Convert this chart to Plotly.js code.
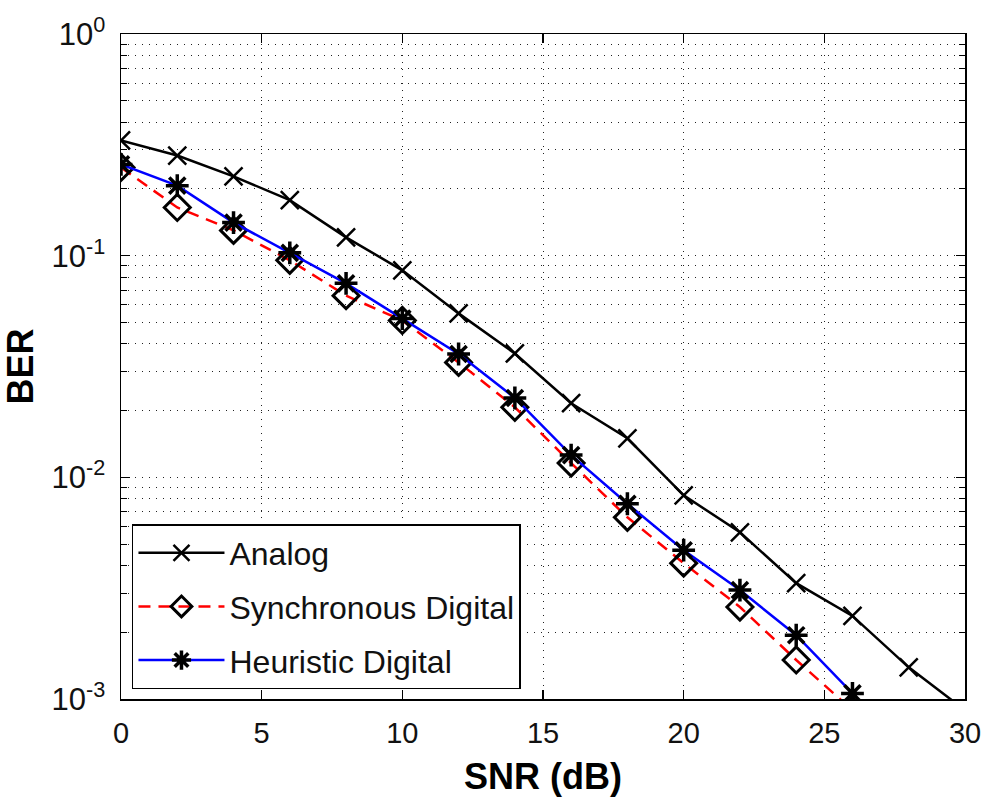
<!DOCTYPE html>
<html>
<head>
<meta charset="utf-8">
<script src="https://cdn.plot.ly/plotly-3.0.1.min.js"></script>
<style>html,body{margin:0;padding:0;background:#fff;}#chart{width:985px;height:797px;}</style>
</head>
<body>
<div id="chart"></div>
<script>
// SNR values (dB)
const snrAnalog = [0, 2, 4, 6, 8, 10, 12, 14, 16, 18, 20, 22, 24, 26, 28, 30];
const berAnalog = [0.331, 0.283, 0.228, 0.178, 0.121, 0.0859, 0.0549, 0.0362, 0.0216, 0.0150, 0.0083, 0.00565, 0.00333, 0.00237, 0.00139, 0.00089];

const snrSync = [0, 2, 4, 6, 8, 10, 12, 14, 16, 18, 20, 22, 24, 26];
const berSync = [0.25, 0.165, 0.130, 0.0953, 0.066, 0.051, 0.033, 0.0207, 0.0116, 0.0066, 0.0041, 0.0026, 0.0015, 0.00089];

const snrHeur = [0, 2, 4, 6, 8, 10, 12, 14, 16, 18, 20, 22, 24, 26];
const berHeur = [0.258, 0.207, 0.141, 0.103, 0.075, 0.052, 0.036, 0.0228, 0.0126, 0.0076, 0.00469, 0.0031, 0.00194, 0.00106];

const seriesNames = ['Analog', 'Synchronous Digital', 'Heuristic Digital'];
const yTickVals = [0.001, 0.01, 0.1, 1];
const yTickText = ['10<sup>-3</sup>', '10<sup>-2</sup>', '10<sup>-1</sup>', '10<sup>0</sup>'];

const minorVals = [];
for (let d = -3; d < 0; d++) {
  for (let m = 2; m <= 9; m++) minorVals.push(m * Math.pow(10, d));
}

const FONT = 'Liberation Sans, Arial, Helvetica, sans-serif';

const traces = [
  {
    x: snrAnalog, y: berAnalog, name: seriesNames[0], legendgroup: 'a',
    mode: 'lines+markers', type: 'scatter',
    line: {color: 'black', width: 2.5},
    marker: {symbol: 'x-thin-open', size: 18, color: 'black', line: {color: 'black', width: 2.5}}
  },
  {
    x: snrSync, y: berSync, name: seriesNames[1], legendgroup: 'b',
    mode: 'lines+markers', type: 'scatter',
    line: {color: '#ff0000', width: 2.5, dash: '12px,8px'},
    marker: {symbol: 'diamond-open', size: 20, color: 'black', line: {color: 'black', width: 3}}
  },
  {
    x: snrHeur, y: berHeur, name: seriesNames[2], legendgroup: 'c',
    mode: 'lines+markers', type: 'scatter',
    line: {color: '#0000ff', width: 2.5},
    marker: {symbol: 'asterisk-open', size: 19, color: 'black', line: {color: 'black', width: 3.5}}
  }
];

const layout = {
  width: 985, height: 797,
  margin: {l: 121, r: 20, t: 34, b: 98},
  paper_bgcolor: 'white', plot_bgcolor: 'white',
  font: {family: FONT, color: 'black', size: 29},
  showlegend: true,
  legend: {
    x: 0.013, y: 0.015, xanchor: 'left', yanchor: 'bottom',
    bgcolor: 'white', bordercolor: 'black', borderwidth: 1.5,
    font: {family: FONT, size: 32, color: '#111'},
    itemwidth: 86, tracegroupgap: 9
  },
  xaxis: {
    range: [0, 30], tick0: 0, dtick: 5,
    ticks: 'inside', ticklen: 9, tickwidth: 1.5, tickcolor: 'black',
    showline: true, linecolor: 'black', linewidth: 1.5, mirror: 'ticks',
    showgrid: true, gridcolor: '#222', gridwidth: 1, griddash: '1px,6px',
    zeroline: false,
    tickfont: {family: FONT, size: 29, color: '#111'},
    ticklabelstandoff: 8,
    title: {text: 'SNR (dB)', font: {family: FONT, size: 36, weight: 'bold', color: 'black'}, standoff: 16}
  },
  yaxis: {
    type: 'log', range: [-3, 0],
    tickmode: 'array', tickvals: yTickVals, ticktext: yTickText,
    ticks: 'inside', ticklen: 9, tickwidth: 1.5, tickcolor: 'black',
    showline: true, linecolor: 'black', linewidth: 1.5, mirror: 'ticks',
    showgrid: true, gridcolor: '#222', gridwidth: 1, griddash: '1px,6px',
    zeroline: false,
    tickfont: {family: FONT, size: 31, color: '#111'},
    ticklabelstandoff: 8,
    minor: {
      tickmode: 'array', tickvals: minorVals,
      ticks: 'inside', ticklen: 6, tickwidth: 1, tickcolor: 'black',
      showgrid: true, gridcolor: '#222', gridwidth: 1, griddash: '1px,6px'
    },
    title: {text: 'BER', font: {family: FONT, size: 36, weight: 'bold', color: 'black'}, standoff: 12}
  }
};

Plotly.newPlot('chart', traces, layout, {staticPlot: true, displayModeBar: false});
</script>
</body>
</html>
